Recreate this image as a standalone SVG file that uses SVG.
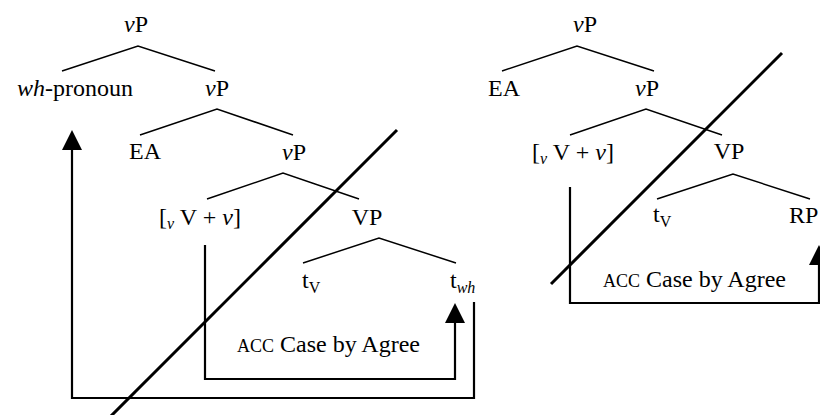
<svg xmlns="http://www.w3.org/2000/svg" width="820" height="415" viewBox="0 0 820 415">
<style>
text{font-family:"Liberation Serif","Times New Roman",serif;font-size:24px;fill:#000}
.i{font-style:italic}
.sub{font-size:16px}
.sc{font-size:18px}
.tree{stroke:#000;stroke-width:1.5;fill:none}
.arr{stroke:#000;stroke-width:2.2;fill:none}
.cut{stroke:#000;stroke-width:3;fill:none}
.head{fill:#000}
</style>
<g id="connectors">
<polyline class="tree" points="62,71 138,46 215,71"/>
<polyline class="tree" points="140,135 217,109 293,135"/>
<polyline class="tree" points="207,199 283,173 359,199"/>
<polyline class="tree" points="303,263 379,238 456,263"/>
<polyline class="tree" points="502,71 577,46 654,71"/>
<polyline class="tree" points="570,135 646,109 722,135"/>
<polyline class="tree" points="657,199 733,174 810,199"/>
<polyline class="arr" points="205,245 205,379 455,379 455,322"/>
<path class="head" d="M445,323 L455,303 L465,323 Z"/>
<polyline class="arr" points="474,302 474,398 72,398 72,149"/>
<path class="head" d="M62,150 L72,130 L82,150 Z"/>
<polyline class="arr" points="570,187 570,303 819,303 819,264"/>
<path class="head" d="M809,265 L819,245 L829,265 Z"/>
<line class="cut" x1="397" y1="130" x2="110" y2="417"/>
<line class="cut" x1="782" y1="53" x2="551" y2="284"/>
</g>
<g id="left-vP1"><text x="136" y="32" text-anchor="middle"><tspan class="i">v</tspan>P</text></g>
<g id="left-wh"><text x="75" y="96" text-anchor="middle"><tspan class="i">wh</tspan>-pronoun</text></g>
<g id="left-vP2"><text x="217" y="96" text-anchor="middle"><tspan class="i">v</tspan>P</text></g>
<g id="left-EA"><text x="145" y="159" text-anchor="middle">EA</text></g>
<g id="left-vP3"><text x="294" y="160" text-anchor="middle"><tspan class="i">v</tspan>P</text></g>
<g id="left-Vv"><text x="200" y="225" text-anchor="middle">[<tspan class="i sub" dy="4">v</tspan><tspan dy="-4"> V + </tspan><tspan class="i">v</tspan>]</text></g>
<g id="left-VP"><text x="367" y="225" text-anchor="middle">VP</text></g>
<g id="left-tV"><text x="302" y="288">t<tspan class="sub" dy="5">V</tspan></text></g>
<g id="left-twh"><text x="450" y="288">t<tspan class="sub i" dy="5">wh</tspan></text></g>
<g id="left-acc"><text x="237" y="352"><tspan class="sc">ACC</tspan> Case by Agree</text></g>
<g id="right-vP1"><text x="585" y="32" text-anchor="middle"><tspan class="i">v</tspan>P</text></g>
<g id="right-EA"><text x="504" y="96" text-anchor="middle">EA</text></g>
<g id="right-vP2"><text x="647" y="96" text-anchor="middle"><tspan class="i">v</tspan>P</text></g>
<g id="right-Vv"><text x="573" y="160" text-anchor="middle">[<tspan class="i sub" dy="4">v</tspan><tspan dy="-4"> V + </tspan><tspan class="i">v</tspan>]</text></g>
<g id="right-VP"><text x="729" y="159" text-anchor="middle">VP</text></g>
<g id="right-tV"><text x="653" y="222">t<tspan class="sub" dy="5">V</tspan></text></g>
<g id="right-RP"><text x="789" y="223">RP</text></g>
<g id="right-acc"><text x="603" y="287"><tspan class="sc">ACC</tspan> Case by Agree</text></g>
</svg>
